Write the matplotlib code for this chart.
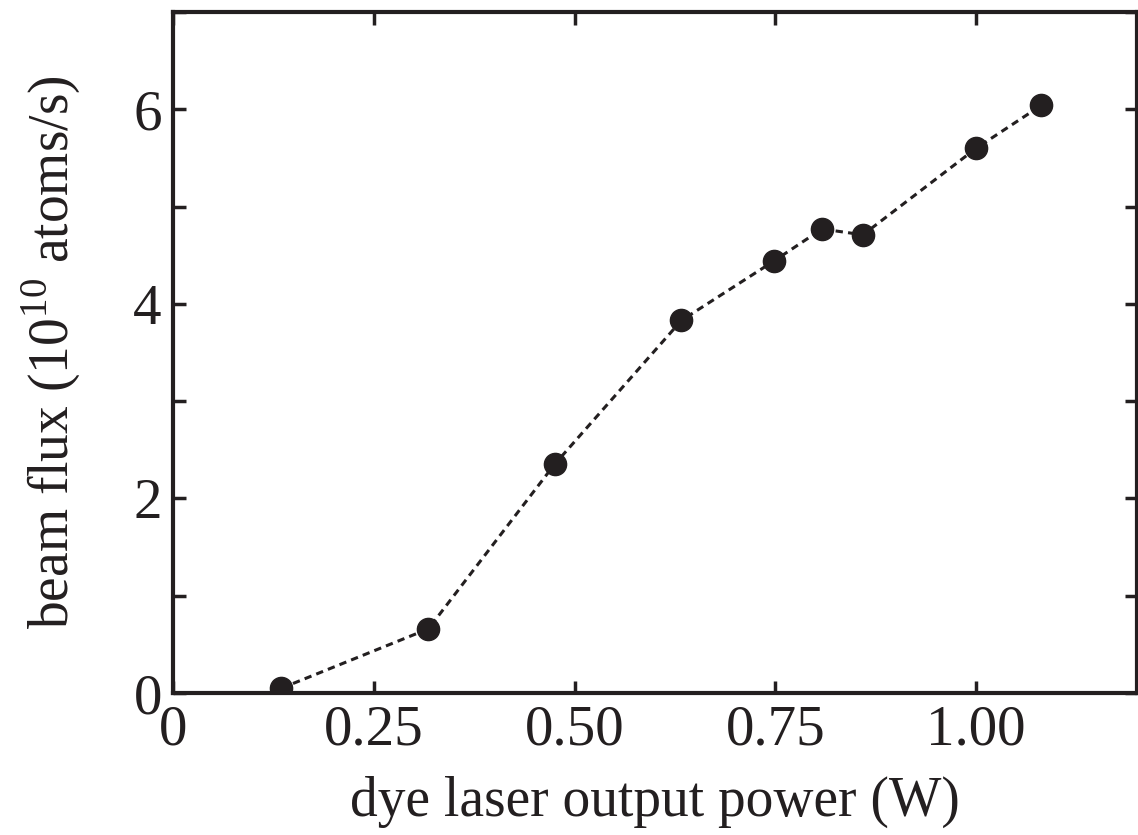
import matplotlib
matplotlib.use("Agg")
import matplotlib.pyplot as plt
from matplotlib.ticker import MultipleLocator

plt.rcParams["font.family"] = ["Liberation Serif", "DejaVu Serif"]
plt.rcParams["mathtext.fontset"] = "custom"
plt.rcParams["mathtext.rm"] = "Liberation Serif"

# 数据: 染料激光输出功率 vs 原子束流
power = [0.135, 0.318, 0.475, 0.633, 0.748, 0.808, 0.859, 1.000, 1.081]
flux = [0.05, 0.66, 2.35, 3.83, 4.44, 4.77, 4.71, 5.60, 6.04]

x_ticks = [0, 0.25, 0.50, 0.75, 1.00]
x_tick_labels = ["0", "0.25", "0.50", "0.75", "1.00"]
y_ticks = [0, 2, 4, 6]

ink = "#231f20"

fig = plt.figure(figsize=(11.38, 8.35), dpi=100)
ax = fig.add_axes([0.152, 0.170, 0.847, 0.8156])

ax.plot(power, flux, linestyle=(0, (2.4, 1.7)), color=ink, linewidth=2.2,
        marker="o", markersize=16, markerfacecolor=ink, markeredgecolor=ink)

ax.set_xlim(0, 1.2)
ax.set_ylim(0, 7)
ax.set_xticks(x_ticks)
ax.set_xticklabels(x_tick_labels)
ax.set_yticks(y_ticks)
ax.yaxis.set_minor_locator(MultipleLocator(1))

for s in ax.spines.values():
    s.set_linewidth(3)
    s.set_color(ink)

ax.tick_params(which="both", direction="in", top=True, right=True,
               width=2.5, color=ink, labelsize=41, labelcolor=ink)
ax.tick_params(which="major", length=9, pad=8)
ax.tick_params(which="minor", length=9)

ax.set_xlabel("dye laser output power (W)", fontsize=40, color=ink, labelpad=14)
ax.set_ylabel(r"beam flux (10$^{10}$ atoms/s)", fontsize=40, color=ink, labelpad=36)

plt.savefig("out.png", dpi=100)
